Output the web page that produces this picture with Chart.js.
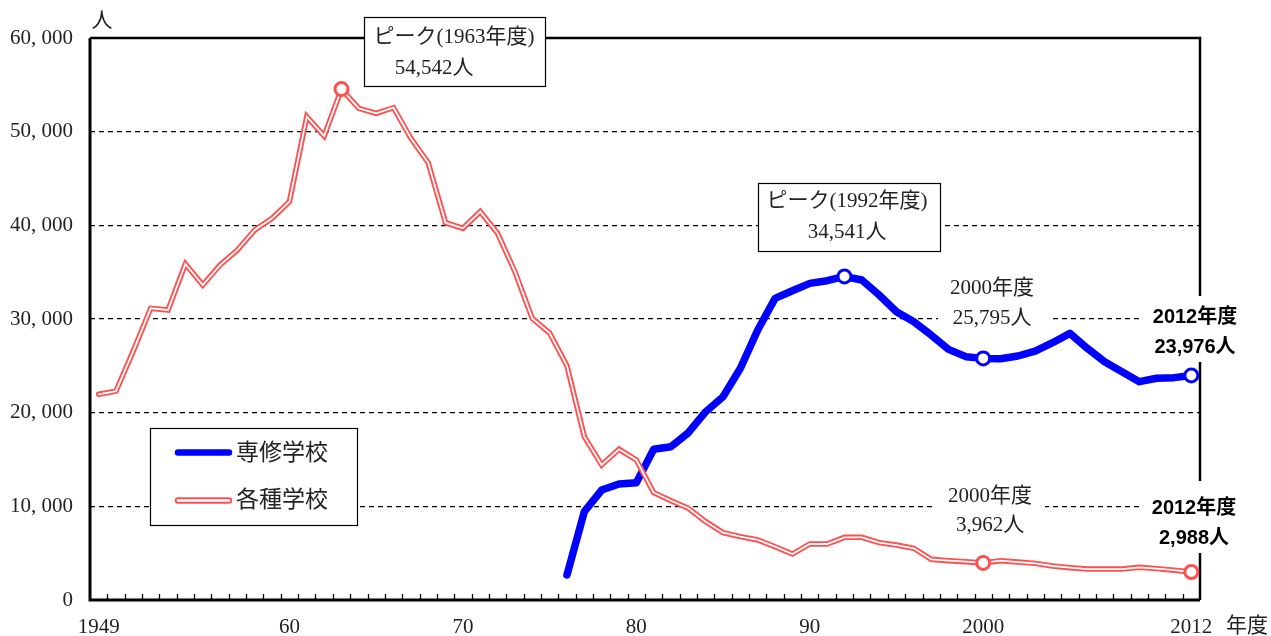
<!DOCTYPE html>
<html>
<head>
<meta charset="utf-8">
<script src="https://cdn.jsdelivr.net/npm/chart.js@4/dist/chart.umd.min.js"></script>
<style>
  html, body { margin: 0; padding: 0; background: #fff; }
  #wrap { width: 1271px; height: 636px; position: relative; }
</style>
</head>
<body>
<div id="wrap"><canvas id="c" width="1271" height="636"></canvas></div>
<script>
// ---- data ----
const years = [];
for (let y = 1949; y <= 2012; y++) years.push(String(y));

const kakushuValues = [
  21960, 22300, 26600, 31140, 30960, 35870, 33630, 35760, 37370, 39500,
  40750, 42530, 51600, 49540, 54542, 52490, 51960, 52560, 49290, 46690,
  40280, 39680, 41460, 39150, 35050, 30070, 28500, 25000, 17440, 14410,
  16090, 14950, 11460, 10600, 9790, 8360, 7190, 6760, 6410, 5690,
  4910, 5980, 5980, 6690, 6690, 6120, 5870, 5520, 4340, 4200,
  4090, 3962, 4200, 4050, 3910, 3630, 3450, 3300, 3300, 3300,
  3490, 3350, 3180, 2988
];

const senshuValues = [
  null, null, null, null, null, null, null, null, null, null,
  null, null, null, null, null, null, null, null, null, null,
  null, null, null, null, null, null, null,
  2670, 9430, 11740, 12380, 12520, 16090, 16370, 17860, 20100, 21700,
  24740, 28820, 32200, 33020, 33800, 34090, 34541, 34160, 32560, 30780,
  29710, 28290, 26760, 25980, 25795, 25760, 26050, 26580, 27470, 28470,
  26870, 25440, 24370, 23310, 23670, 23740, 23976
];

const senshuMarkYears = ['1992', '2000', '2012'];
const kakushuMarkYears = ['1963', '2000', '2012'];

const xTickYears = ['1949', '1960', '1970', '1980', '1990', '2000', '2012'];
const xTickText = ['1949', '60', '70', '80', '90', '2000', '2012'];
const yTickValues = [0, 10000, 20000, 30000, 40000, 50000, 60000];
const yTickText = ['0', '10, 000', '20, 000', '30, 000', '40, 000', '50, 000', '60, 000'];

const seriesNames = ['専修学校', '各種学校'];

// ---- styles ----
const SERIF = "'Liberation Serif', 'Noto Sans CJK JP', serif";
const BOLD = "'Liberation Sans', 'Noto Sans CJK JP', sans-serif";
const BLUE = '#0000ff';
const RED = '#ff5050';
const TXT = '#222';

function markRadius(list, r) {
  return (ctx) => list.includes(years[ctx.dataIndex]) ? r : 0;
}

// frame + small x ticks
const framePlugin = {
  id: 'frame',
  beforeDatasetsDraw(chart) {
    const { ctx, chartArea: a, scales: { x } } = chart;
    ctx.save();
    ctx.strokeStyle = '#000';
    ctx.lineCap = 'butt';
    ctx.lineWidth = 1.3;
    const step = x.getPixelForValue(1) - x.getPixelForValue(0);
    for (let i = 1; i < years.length; i++) {
      const px = Math.round(x.getPixelForValue(i) - step / 2) + 0.5;
      ctx.beginPath();
      ctx.moveTo(px, a.bottom);
      ctx.lineTo(px, a.bottom - 6);
      ctx.stroke();
    }
    ctx.lineWidth = 3;
    ctx.beginPath();
    ctx.moveTo(a.left, a.top);
    ctx.lineTo(a.left, a.bottom);
    ctx.lineTo(a.right, a.bottom);
    ctx.stroke();
    ctx.lineWidth = 2.5;
    ctx.beginPath();
    ctx.moveTo(a.left, a.top);
    ctx.lineTo(a.right, a.top);
    ctx.lineTo(a.right, a.bottom);
    ctx.stroke();
    ctx.restore();
  }
};

const annotPlugin = {
  id: 'annot',
  afterDraw(chart) {
    const { ctx } = chart;
    ctx.save();
    const boxes = [
      { x: 364, y: 17, w: 181, h: 69, l1: 'ピーク(1963年度)', c1: 454, y1: 37, l2: '54,542人', c2: 434, y2: 68 },
      { x: 758, y: 183, w: 182, h: 68, l1: 'ピーク(1992年度)', c1: 847, y1: 201, l2: '34,541人', c2: 847, y2: 232 }
    ];
    boxes.forEach(b => {
      ctx.fillStyle = '#fff';
      ctx.fillRect(b.x, b.y, b.w, b.h);
      ctx.strokeStyle = '#000';
      ctx.lineWidth = 1.2;
      ctx.strokeRect(b.x + 0.5, b.y + 0.5, b.w, b.h);
      ctx.font = '21px ' + SERIF;
      ctx.fillStyle = TXT;
      ctx.textAlign = 'center';
      ctx.textBaseline = 'middle';
      ctx.fillText(b.l1, b.c1, b.y1);
      ctx.fillText(b.l2, b.c2, b.y2);
    });
    const labels2000 = [
      { bx: 938, by: 274, bw: 114, bh: 58, cx: 992, y1: 288, y2: 318, l1: '2000年度', l2: '25,795人' },
      { bx: 935, by: 483, bw: 110, bh: 56, cx: 990, y1: 496, y2: 525, l1: '2000年度', l2: '3,962人' }
    ];
    labels2000.forEach(b => {
      ctx.fillStyle = '#fff';
      ctx.fillRect(b.bx, b.by, b.bw, b.bh);
      ctx.font = '21px ' + SERIF;
      ctx.fillStyle = TXT;
      ctx.textAlign = 'center';
      ctx.textBaseline = 'middle';
      ctx.fillText(b.l1, b.cx, b.y1);
      ctx.fillText(b.l2, b.cx, b.y2);
    });
    const labels2012 = [
      { bx: 1142, by: 296, bw: 108, bh: 66, cx: 1195, y1: 317, y2: 347, l1: '2012年度', l2: '23,976人' },
      { bx: 1142, by: 481, bw: 108, bh: 72, cx: 1194, y1: 508, y2: 538, l1: '2012年度', l2: '2,988人' }
    ];
    labels2012.forEach(b => {
      ctx.fillStyle = '#fff';
      ctx.fillRect(b.bx, b.by, b.bw, b.bh);
      ctx.font = 'bold 20px ' + BOLD;
      ctx.fillStyle = '#000';
      ctx.textAlign = 'center';
      ctx.textBaseline = 'middle';
      ctx.fillText(b.l1, b.cx, b.y1);
      ctx.fillText(b.l2, b.cx, b.y2);
    });
    ctx.font = '21px ' + SERIF;
    ctx.fillStyle = TXT;
    ctx.textAlign = 'center';
    ctx.textBaseline = 'middle';
    ctx.fillText('人', 102, 21);
    ctx.fillText('年度', 1247, 626);

    // legend
    ctx.fillStyle = '#fff';
    ctx.fillRect(150, 428, 208, 98);
    ctx.strokeStyle = '#000';
    ctx.lineWidth = 1.2;
    ctx.strokeRect(150.5, 428.5, 207, 97);
    ctx.lineCap = 'round';
    ctx.strokeStyle = BLUE;
    ctx.lineWidth = 6.5;
    ctx.beginPath(); ctx.moveTo(178, 452.5); ctx.lineTo(229, 452.5); ctx.stroke();
    ctx.strokeStyle = RED;
    ctx.lineWidth = 6.5;
    ctx.beginPath(); ctx.moveTo(178, 500.5); ctx.lineTo(229, 500.5); ctx.stroke();
    ctx.strokeStyle = '#fff';
    ctx.lineWidth = 2.5;
    ctx.beginPath(); ctx.moveTo(178, 500.5); ctx.lineTo(229, 500.5); ctx.stroke();
    ctx.font = '23px ' + SERIF;
    ctx.fillStyle = TXT;
    ctx.textAlign = 'left';
    ctx.fillText(seriesNames[0], 236, 454);
    ctx.fillText(seriesNames[1], 236, 501);
    ctx.restore();
  }
};

new Chart(document.getElementById('c'), {
  type: 'line',
  data: {
    labels: years,
    datasets: [
      {
        label: seriesNames[0],
        data: senshuValues,
        borderColor: BLUE,
        borderWidth: 7.5,
        borderCapStyle: 'round',
        borderJoinStyle: 'round',
        pointRadius: markRadius(senshuMarkYears, 6.5),
        pointBackgroundColor: '#fff',
        pointBorderColor: BLUE,
        pointBorderWidth: 3,
        tension: 0,
        order: 3
      },
      {
        label: seriesNames[1],
        data: kakushuValues,
        borderColor: RED,
        borderWidth: 5.5,
        borderCapStyle: 'round',
        borderJoinStyle: 'miter',
        pointRadius: 0,
        tension: 0,
        order: 2
      },
      {
        label: seriesNames[1] + '_inner',
        data: kakushuValues,
        borderColor: '#fff',
        borderWidth: 1.8,
        borderCapStyle: 'round',
        borderJoinStyle: 'miter',
        pointRadius: markRadius(kakushuMarkYears, 6.5),
        pointBackgroundColor: '#fff',
        pointBorderColor: RED,
        pointBorderWidth: 3,
        tension: 0,
        order: 1
      }
    ]
  },
  options: {
    responsive: false,
    animation: false,
    events: [],
    layout: { padding: { left: 0, top: 38, right: 71, bottom: 0 } },
    plugins: { legend: { display: false }, tooltip: { enabled: false }, title: { display: false } },
    scales: {
      x: {
        type: 'category',
        offset: true,
        afterFit: (s) => { s.height = 36; },
        grid: { display: false, drawTicks: false },
        border: { display: false },
        ticks: {
          autoSkip: false,
          maxRotation: 0,
          padding: 15,
          color: TXT,
          font: { family: SERIF, size: 21 },
          callback: (v, i) => {
            const k = xTickYears.indexOf(years[i]);
            return k >= 0 ? xTickText[k] : '';
          }
        }
      },
      y: {
        min: 0,
        max: 60000,
        afterFit: (s) => { s.width = 90; },
        afterBuildTicks: (s) => { s.ticks = yTickValues.map(v => ({ value: v })); },
        grid: {
          drawTicks: false,
          lineWidth: 1.2,
          color: (c) => (c.tick && (c.tick.value === 0 || c.tick.value === 60000)) ? 'rgba(0,0,0,0)' : '#000'
        },
        border: { display: false, dash: [5, 4] },
        ticks: {
          padding: 17,
          color: TXT,
          font: { family: SERIF, size: 21 },
          callback: (v) => {
            const k = yTickValues.indexOf(v);
            return k >= 0 ? yTickText[k] : '';
          }
        }
      }
    }
  },
  plugins: [framePlugin, annotPlugin]
});
</script>
</body>
</html>
